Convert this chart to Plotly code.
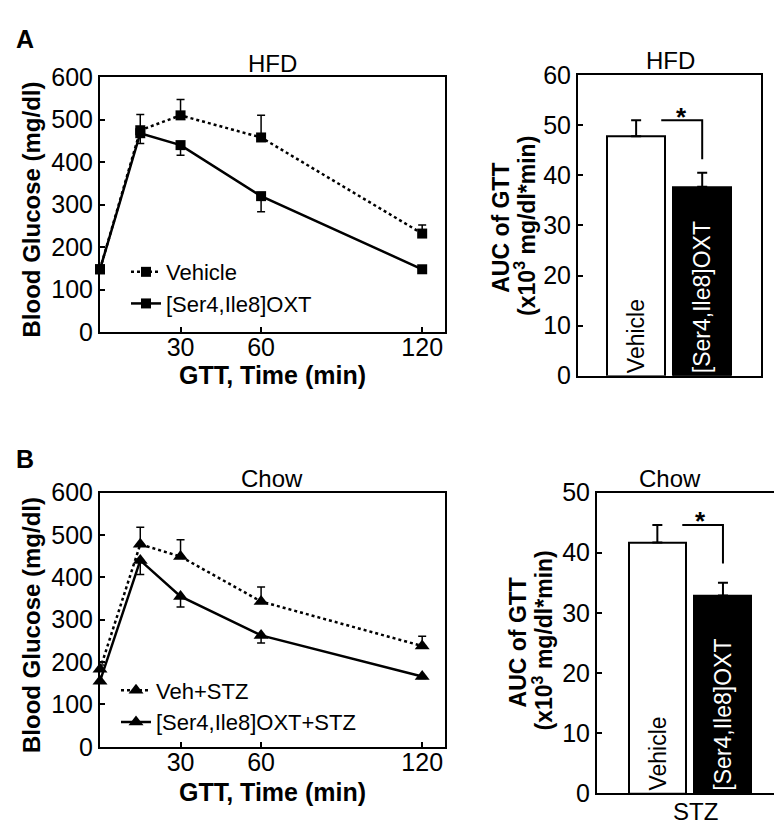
import plotly.graph_objects as go

FONT = "Liberation Sans, Arial, sans-serif"
W, H = 782, 833

# ---------------- data ----------------
time_min = [0, 15, 30, 60, 120]
x_ticks = [30, 60, 120]

hfd_vehicle = [148, 475, 510, 458, 232]
hfd_vehicle_err = [5, 37, 37, 52, 20]
hfd_oxt = [148, 468, 440, 320, 148]
hfd_oxt_err = [5, 24, 24, 37, 5]

chow_veh = [183, 478, 449, 343, 238]
chow_veh_err = [10, 40, 40, 34, 23]
chow_oxt = [155, 440, 355, 263, 166]
chow_oxt_err = [5, 33, 25, 18, 5]

bar_groups = ["Vehicle", "[Ser4,Ile8]OXT"]
hfd_auc = [47.8, 37.7]
hfd_auc_err = [3.2, 2.8]
chow_auc = [41.7, 32.9]
chow_auc_err = [2.9, 2.1]

# ---------------- layout boxes (pixels) ----------------
def px_dom(x0, x1, y0, y1):
    return [x0 / W, x1 / W], [1 - y1 / H, 1 - y0 / H]

TLx, TLy = px_dom(92, 437, 57, 321)
TRx, TRy = px_dom(570, 753, 55, 366)
BLx, BLy = px_dom(92, 437, 487, 750)
BRx, BRy = px_dom(589, 774, 487, 798)

fig = go.Figure()

def line_trace(x, y, err, up, name, dash, symbol, xa, ya, legend, msize):
    e = dict(type="data", symmetric=False, color="black", thickness=1.5, width=4)
    if up:
        e.update(array=err, arrayminus=[0] * len(err))
    else:
        e.update(array=[0] * len(err), arrayminus=err)
    return go.Scatter(
        x=x, y=y, name=name, mode="lines+markers",
        line=dict(color="black", width=2.5, dash=dash),
        marker=dict(symbol=symbol, size=msize, color="black"),
        error_y=e, xaxis=xa, yaxis=ya, legend=legend, cliponaxis=False,
    )

# panel A line plot
fig.add_trace(line_trace(time_min, hfd_vehicle, hfd_vehicle_err, True, "Vehicle",
                         "dot", "square", "x", "y", "legend", 10))
fig.add_trace(line_trace(time_min, hfd_oxt, hfd_oxt_err, False, "[Ser4,Ile8]OXT",
                         "solid", "square", "x", "y", "legend", 10))
# panel B line plot
fig.add_trace(line_trace(time_min, chow_veh, chow_veh_err, True, "Veh+STZ",
                         "dot", "triangle-up", "x3", "y3", "legend2", 13))
fig.add_trace(line_trace(time_min, chow_oxt, chow_oxt_err, False, "[Ser4,Ile8]OXT+STZ",
                         "solid", "triangle-up", "x3", "y3", "legend2", 13))

def bar_trace(vals, errs, xa, ya):
    return go.Bar(
        x=[0, 1], y=vals, width=0.87,
        marker=dict(color=["white", "black"], line=dict(color="black", width=2)),
        error_y=dict(type="data", symmetric=False, array=errs, arrayminus=[0, 0],
                     color="black", thickness=2, width=5),
        text=bar_groups, textposition="inside", insidetextanchor="start",
        textangle=-90, constraintext="none",
        textfont=dict(family=FONT, size=23, color=["black", "white"]),
        xaxis=xa, yaxis=ya, showlegend=False, cliponaxis=False,
    )

fig.add_trace(bar_trace(hfd_auc, hfd_auc_err, "x2", "y2"))
fig.add_trace(bar_trace(chow_auc, chow_auc_err, "x4", "y4"))

# significance brackets built from the bar values
def bracket(vals, errs, gap, xa, ya):
    top = vals[0] + errs[0]
    low = vals[1] + errs[1] + gap
    return go.Scatter(x=[0.38, 1, 1], y=[top, top, low], mode="lines",
                      line=dict(color="black", width=2), xaxis=xa, yaxis=ya,
                      showlegend=False, hoverinfo="skip")

fig.add_trace(bracket(hfd_auc, hfd_auc_err, 2.7, "x2", "y2"))
fig.add_trace(bracket(chow_auc, chow_auc_err, 3.2, "x4", "y4"))

# ---------------- axes ----------------
tickf = dict(family=FONT, size=25, color="black")
common = dict(showline=True, linecolor="black", linewidth=2, mirror=True,
              ticks="inside", ticklen=5, tickwidth=2, tickcolor="black",
              showgrid=False, zeroline=False, tickfont=tickf)

fig.update_layout(
    xaxis=dict(domain=TLx, anchor="y", range=[0, 128.5], tickvals=x_ticks,
               ticklabelstandoff=-8, **common),
    yaxis=dict(domain=TLy, anchor="x", range=[0, 600], dtick=100, **common),
    xaxis2=dict(domain=TRx, anchor="y2", range=[-0.88, 1.89], showticklabels=False,
                **{**common, "ticks": ""}),
    yaxis2=dict(domain=TRy, anchor="x2", range=[0, 60], dtick=10, **common),
    xaxis3=dict(domain=BLx, anchor="y3", range=[0, 128.5], tickvals=x_ticks,
                ticklabelstandoff=-8, **common),
    yaxis3=dict(domain=BLy, anchor="x3", range=[0, 600], dtick=100, **common),
    xaxis4=dict(domain=BRx, anchor="y4", range=[-0.92, 1.9], showticklabels=False,
                **{**common, "ticks": ""}),
    yaxis4=dict(domain=BRy, anchor="x4", range=[0, 50], dtick=10, **common),
)

legf = dict(family=FONT, size=22, color="black")
fig.update_layout(
    legend=dict(x=118 / W, y=1 - 237 / H, xanchor="left", yanchor="top",
                bgcolor="rgba(0,0,0,0)", font=legf, tracegroupgap=0, itemwidth=30),
    legend2=dict(x=108 / W, y=1 - 670 / H, xanchor="left", yanchor="top",
                 bgcolor="rgba(0,0,0,0)", font=legf, tracegroupgap=0, itemwidth=30),
)

# ---------------- text ----------------
ann = []
def A(text, x, y, size=24, bold=False, angle=0):
    t = f"<b>{text}</b>" if bold else text
    ann.append(dict(text=t, x=x / W, y=1 - y / H, xref="paper", yref="paper",
                    showarrow=False, textangle=angle, xanchor="center", yanchor="middle",
                    font=dict(family=FONT, size=size, color="black")))

A("A", 17, 18, size=25, bold=True)
A("B", 17, 452, size=25, bold=True)
A("HFD", 264, 43, size=24)
A("HFD", 662, 40, size=24)
A("Chow", 264, 472, size=24)
A("Chow", 662, 472, size=24)
A("Blood Glucose (mg/dl)", 23, 194, size=24, bold=True, angle=-90)
A("Blood Glucose (mg/dl)", 23, 624, size=24, bold=True, angle=-90)
A("GTT, Time (min)", 264, 365, size=25, bold=True)
A("GTT, Time (min)", 264, 797, size=25, bold=True)
A("AUC of GTT", 493, 213, size=23, bold=True, angle=-90)
A("(x10<sup>3</sup> mg/dl*min)", 517, 211, size=23, bold=True, angle=-90)
A("AUC of GTT", 510, 642, size=23, bold=True, angle=-90)
A("(x10<sup>3</sup> mg/dl*min)", 535, 640, size=23, bold=True, angle=-90)
A("STZ", 687, 817, size=24)

# stars above brackets, in data coordinates
ann.append(dict(text="<b>*</b>", x=0.68, y=hfd_auc[0] + hfd_auc_err[0] + 0.6,
                xref="x2", yref="y2", showarrow=False, yanchor="middle",
                font=dict(family=FONT, size=26, color="black")))
ann.append(dict(text="<b>*</b>", x=0.65, y=chow_auc[0] + chow_auc_err[0] + 0.7,
                xref="x4", yref="y4", showarrow=False, yanchor="middle",
                font=dict(family=FONT, size=26, color="black")))

fig.update_layout(
    annotations=ann, width=W, height=H, margin=dict(l=0, r=0, t=0, b=0),
    paper_bgcolor="white", plot_bgcolor="white", font=dict(family=FONT, color="black"),
    bargap=0,
)

fig.write_html("out.html")
